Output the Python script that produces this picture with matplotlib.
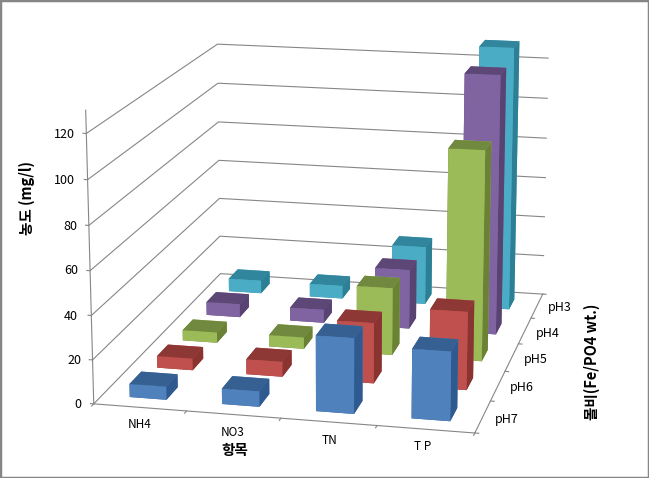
import numpy as np
import matplotlib
matplotlib.use("Agg")
import matplotlib.pyplot as plt
from matplotlib.patches import Rectangle

plt.rcParams["font.family"] = ["Noto Sans CJK KR", "DejaVu Sans"]

items = ["NH4", "NO3", "TN", "T P"]
series = ["pH7", "pH6", "pH5", "pH4", "pH3"]
ph7 = [6, 7, 34, 31]
ph6 = [5.5, 7, 28, 36]
ph5 = [5, 5.5, 32, 99]
ph4 = [6.5, 6.5, 29, 125]
ph3 = [6.5, 6.5, 29, 130]
values = [ph7, ph6, ph5, ph4, ph3]
z_ticks = [0, 20, 40, 60, 80, 100, 120]

front = ["#4F81BD", "#C0504D", "#9BBB59", "#8064A2", "#4BACC6"]
top = ["#376092", "#8E3836", "#71893F", "#5C4776", "#31859C"]
side = ["#2F5A8F", "#8A3432", "#6B8235", "#584372", "#2C7F95"]

W, H = 649, 478
fig = plt.figure(figsize=(W / 100, H / 100), dpi=100)
ax = fig.add_axes([0, 0, 100 / W, 100 / H], projection="3d", computed_zorder=False)
ax.set_xlim(0, 4)
ax.set_ylim(0, 5)
ax.set_zlim(0, 130)
ax.view_init(elev=14.7042, azim=-77.2776, roll=0.0159)
ax.set_proj_type("persp", focal_length=0.7029)
ax.set_box_aspect((1.2844, 1.5892, 1))
ax.set_axis_off()
ax.patch.set_alpha(0)

# place the axes so the projected box lands where the walls are in the picture
ax.apply_aspect()
p = ax.transData.transform([[0, 0], [1, 1]])
s0 = p[1, 0] - p[0, 0]
k = 3376.90 / s0
left = 334.34 - k * p[0, 0]
bottom = H - 210.26 - k * p[0, 1]
ax.set_position([left / W, bottom / H, 100 * k / W, 100 * k / H])

grid = "#868686"
lw = 0.8
for z in z_ticks:
    ax.plot([0, 0, 4], [0, 5, 5], [z, z, z], color=grid, lw=lw, zorder=1)
    ax.plot([0, -0.035], [0, 0], [z, z], color=grid, lw=lw, zorder=1)
ax.plot([0, 0], [0, 0], [0, 130], color=grid, lw=lw, zorder=1)
ax.plot([0, 4, 4], [0, 0, 5], [0, 0, 0], color=grid, lw=lw, zorder=1)
for i in range(5):
    ax.plot([i, i], [0, -0.07], [0, 0], color=grid, lw=lw, zorder=1)
for j in range(6):
    ax.plot([4, 4.04], [j, j], [0, 0], color=grid, lw=lw, zorder=1)

bar_w = 0.4
bar_d = 0.42
order = 2
for r in range(4, -1, -1):
    for c in range(4):
        colors = [top[r], top[r], front[r], front[r], side[r], side[r]]
        ax.bar3d(c + 0.5 - bar_w / 2, r + 0.5 - bar_d / 2, 0, bar_w, bar_d, values[r][c],
                 color=colors, shade=False, linewidth=0, zorder=order)
        order += 1


def label(x, y, s, **kw):
    fig.text(x / W, 1 - y / H, s, va="center", **kw)


for z, xr, y in zip(z_ticks, [81, 81, 78, 78, 77, 75, 75], [404, 360, 316, 271, 226, 181, 135]):
    label(xr, y, str(z), ha="right", fontsize=9)
for s, x, y in zip(items, [140, 233, 329, 423], [425, 433, 440, 447]):
    label(x, y, s, ha="center", fontsize=8.5)
for s, x, y in zip(series, [507, 522, 536, 548, 560], [419, 387, 359, 333, 308]):
    label(x, y, s, ha="center", fontsize=9)
label(235, 450, "항목", ha="center", fontsize=10.5, fontweight="bold")
label(27, 198, "농도 (mg/l)", ha="center", rotation=90, fontsize=10.5, fontweight="bold")
label(592, 362, "몰비(Fe/PO4 wt.)", ha="center", rotation=90, fontsize=10.5, fontweight="bold")

fig.add_artist(Rectangle((0, 0), 1, 1, transform=fig.transFigure, fill=False, ec="#868686", lw=2.5))
fig.savefig("out.png", dpi=100)
